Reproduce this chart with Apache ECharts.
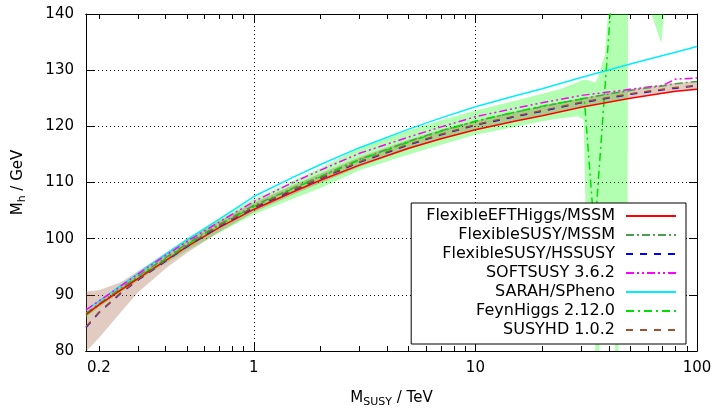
<!DOCTYPE html>
<html>
<head>
<meta charset="utf-8">
<script src="https://cdn.jsdelivr.net/npm/echarts@6/dist/echarts.min.js"></script>
<style>
  html, body { margin: 0; padding: 0; background: #fff; }
  #chart { width: 716px; height: 408px; }
</style>
</head>
<body>
<div id="chart"></div>
<script>
// M_SUSY grid in TeV
const mSusy = [0.175, 0.2, 0.25, 0.3, 0.4, 0.5, 0.7, 1, 1.5, 2, 3, 5, 7, 10, 15, 20, 30, 50, 70, 80, 100];

// M_h in GeV for each code
const eftHiggs = [86.5, 88.2, 90.8, 92.9, 96.1, 98.6, 102.0, 105.2, 108.3, 110.4, 113.1, 116.1, 117.8, 119.4, 120.9, 121.9, 123.4, 125.0, 125.9, 126.25, 126.6];
const fsMssm   = [86.7, 88.4, 91.1, 93.3, 96.6, 99.1, 102.6, 105.9, 109.0, 111.1, 114.1, 117.3, 119.2, 120.9, 122.5, 123.5, 124.9, 126.4, 127.2, 127.6, 128.0];
const hssusy   = [84.2, 86.8, 90.2, 92.6, 96.0, 98.6, 102.2, 105.5, 108.6, 110.7, 113.6, 116.7, 118.5, 120.2, 121.7, 122.7, 124.2, 125.7, 126.5, 126.8, 127.2];
const softsusy = [87.3, 88.9, 91.5, 93.7, 97.0, 99.5, 103.0, 106.6, 110.0, 112.2, 115.2, 118.1, 119.9, 121.7, 123.2, 124.2, 125.5, 126.6, 127.3, 128.4, 128.6];
const spheno   = [87.3, 88.9, 91.6, 93.8, 97.2, 99.8, 103.5, 107.5, 110.9, 113.2, 116.2, 119.5, 121.5, 123.5, 125.4, 126.7, 128.7, 131.1, 132.6, 133.2, 134.2];
const susyhd   = [84.3, 86.9, 90.3, 92.7, 96.1, 98.7, 102.3, 105.6, 108.7, 110.8, 113.7, 116.8, 118.6, 120.3, 121.8, 122.8, 124.3, 125.8, 126.6, 126.9, 127.3];

// SUSYHD uncertainty band
const susyhdLow = [79.9, 82.3, 86.8, 90.4, 94.7, 97.5, 101.2, 104.7, 107.8, 109.9, 112.8, 115.9, 117.7, 119.4, 120.9, 122.0, 123.5, 125.0, 125.8, 126.1, 126.5];
const susyhdUp  = [90.6, 90.8, 92.2, 94.2, 97.5, 100.0, 103.2, 106.4, 109.5, 111.6, 114.5, 117.6, 119.4, 121.0, 122.5, 123.6, 125.0, 126.6, 127.4, 127.7, 128.0];

// FeynHiggs has its own grid
const fhX  = [0.175, 0.2, 0.25, 0.3, 0.4, 0.5, 0.7, 1, 1.5, 2, 3, 5, 7, 10, 15, 20, 25, 31, 34.5, 42];
const fhMh = [86.4, 88.2, 90.9, 93.1, 96.4, 98.9, 102.4, 105.7, 108.9, 111.0, 114.0, 117.2, 119.1, 120.9, 122.5, 123.6, 124.3, 124.9, 101.0, 148.0];

// FeynHiggs uncertainty band
const fhBandX   = [0.175, 0.2, 0.25, 0.3, 0.4, 0.5, 0.7, 1, 1.5, 2, 3, 5, 7, 10, 15, 20, 24, 29, 30.8, 31.8, 34.5, 35, 35.3, 36, 36.5, 38.4, 39.8, 42.5, 43, 44, 44.5, 48.5, 48.9, 61, 69, 71.5, 100];
const fhBandLow = [86.0, 87.8, 90.4, 92.5, 95.6, 97.9, 101.1, 104.3, 107.1, 109.0, 112.2, 115.0, 116.7, 118.5, 119.9, 120.9, 121.4, 121.8, 121.2, 95, 90, 70, 70, 70, 88, 88, 88, 88, 70, 70, 88, 88, 145, 141, 134.8, 141, 145];
const fhBandUp  = [86.9, 88.7, 91.6, 93.9, 97.4, 100.1, 103.7, 107.0, 110.3, 112.6, 116.2, 119.3, 121.1, 122.8, 124.5, 125.8, 126.6, 127.9, 128.3, 128.3, 127.8, 128.0, 128.2, 129.2, 130.0, 132.7, 140.7, 150, 150, 150, 150, 150, 150, 150, 150, 150, 150];

// axis ticks
const xTickLabels = [0.2, 1, 10, 100];
const xMajorTicks = [1, 10, 100];
const xMinorTicks = [0.2, 0.3, 0.4, 0.5, 0.6, 0.7, 0.8, 0.9, 2, 3, 4, 5, 6, 7, 8, 9, 20, 30, 40, 50, 60, 70, 80, 90];

const FONT = 'DejaVu Sans';
const pairs = (xs, ys) => xs.map((x, i) => [x, ys[i]]);

const chart = echarts.init(document.getElementById('chart'));

function xAxisCfg(pos, ticks, len, extra) {
  return Object.assign({
    type: 'log',
    logBase: 10,
    min: 0.175,
    max: 100,
    position: pos,
    axisLine: { show: true, onZero: false, lineStyle: { color: '#000', width: 1 } },
    axisTick: { show: true, inside: true, length: len, customValues: ticks, lineStyle: { color: '#000' } },
    axisLabel: { show: false },
    splitLine: { show: false }
  }, extra || {});
}

// filled area between a lower and an upper curve, drawn as one polygon
function bandSeries(xs, low, up, color) {
  return {
    type: 'custom',
    coordinateSystem: 'cartesian2d',
    xAxisIndex: 0,
    yAxisIndex: 0,
    silent: true,
    clip: true,
    z: 1,
    data: xs.map((x, i) => [x, low[i], up[i]]),
    renderItem: function (params, api) {
      if (params.dataIndex !== 0) return null;
      const pts = [];
      for (let i = 0; i < xs.length; i++) pts.push(api.coord([xs[i], up[i]]));
      for (let i = xs.length - 1; i >= 0; i--) pts.push(api.coord([xs[i], low[i]]));
      return { type: 'polygon', shape: { points: pts }, style: { fill: color } };
    }
  };
}

const subRich = {
  m: { fontFamily: FONT, fontSize: 15, lineHeight: 20, color: '#000' },
  s: { fontFamily: FONT, fontSize: 11, lineHeight: 13, verticalAlign: 'bottom', color: '#000' }
};

const lineBase = (name, data, color, type) => ({
  name: name,
  type: 'line',
  data: data,
  xAxisIndex: 0,
  yAxisIndex: 0,
  symbol: 'none',
  z: 3,
  lineStyle: { color: color, width: 1.5, type: type },
  itemStyle: { color: color }
});

const option = {
  animation: false,
  backgroundColor: '#fff',
  textStyle: { fontFamily: FONT },
  grid: { left: 86, right: 19, top: 14, bottom: 57, outerBoundsMode: 'none', containLabel: false },
  xAxis: [
    xAxisCfg('bottom', xMinorTicks, 5, {
      axisLabel: {
        show: true, customValues: xTickLabels, margin: 10,
        fontFamily: FONT, fontSize: 15, color: '#000',
        formatter: v => String(+(+v).toPrecision(3))
      },
      name: '{m|M}{s|SUSY}{m| / TeV}',
      nameLocation: 'middle',
      nameGap: 37,
      nameTextStyle: { rich: subRich }
    }),
    xAxisCfg('bottom', xMajorTicks, 9, {
      splitLine: { show: true, lineStyle: { color: '#000', type: [1, 3], width: 1 } }
    }),
    xAxisCfg('top', xMinorTicks, 5),
    xAxisCfg('top', xMajorTicks, 9)
  ],
  yAxis: [
    {
      type: 'value', min: 80, max: 140, interval: 10, position: 'left',
      axisLine: { show: true, onZero: false, lineStyle: { color: '#000', width: 1 } },
      axisTick: { show: true, inside: true, length: 8, lineStyle: { color: '#000' } },
      axisLabel: { margin: 12, fontFamily: FONT, fontSize: 15, color: '#000' },
      splitLine: { show: true, lineStyle: { color: '#000', type: [1, 3], width: 1 } },
      name: '{m|M}{s|h}{m| / GeV}',
      nameLocation: 'middle',
      nameRotate: 90,
      nameGap: 58,
      nameTextStyle: { rich: subRich }
    },
    {
      type: 'value', min: 80, max: 140, interval: 10, position: 'right',
      axisLine: { show: true, onZero: false, lineStyle: { color: '#000', width: 1 } },
      axisTick: { show: true, inside: true, length: 8, lineStyle: { color: '#000' } },
      axisLabel: { show: false },
      splitLine: { show: false }
    }
  ],
  legend: {
    orient: 'vertical',
    align: 'right',
    right: 30,
    top: 203,
    padding: [5, 9, 6, 15],
    itemGap: 3,
    itemWidth: 50,
    itemHeight: 14,
    backgroundColor: '#fff',
    borderColor: '#000',
    borderWidth: 1,
    borderRadius: 0,
    itemStyle: { opacity: 0 },
    textStyle: { fontFamily: FONT, fontSize: 16, lineHeight: 16, color: '#000', padding: [0, 6, 0, 0] },
    data: ['FlexibleEFTHiggs/MSSM', 'FlexibleSUSY/MSSM', 'FlexibleSUSY/HSSUSY', 'SOFTSUSY 3.6.2',
           'SARAH/SPheno', 'FeynHiggs 2.12.0', 'SUSYHD 1.0.2']
  },
  series: [
    bandSeries(fhBandX, fhBandLow, fhBandUp, 'rgba(0,255,0,0.3)'),
    bandSeries(mSusy, susyhdLow, susyhdUp, 'rgba(160,82,45,0.3)'),
    lineBase('SARAH/SPheno', pairs(mSusy, spheno), '#00eeff', 'solid'),
    lineBase('SOFTSUSY 3.6.2', pairs(mSusy, softsusy), '#ff00ff', [8, 3, 2, 3, 2, 3]),
    lineBase('FlexibleSUSY/MSSM', pairs(mSusy, fsMssm), '#4c9e4c', [8, 3, 2, 3]),
    lineBase('FeynHiggs 2.12.0', pairs(fhX, fhMh), '#00e000', [8, 4, 2, 4]),
    lineBase('FlexibleEFTHiggs/MSSM', pairs(mSusy, eftHiggs), '#ff0000', 'solid'),
    lineBase('FlexibleSUSY/HSSUSY', pairs(mSusy, hssusy), '#0000ff', [7, 7]),
    lineBase('SUSYHD 1.0.2', pairs(mSusy, susyhd), '#a0522d', [7, 7])
  ]
};

chart.setOption(option);
</script>
</body>
</html>
